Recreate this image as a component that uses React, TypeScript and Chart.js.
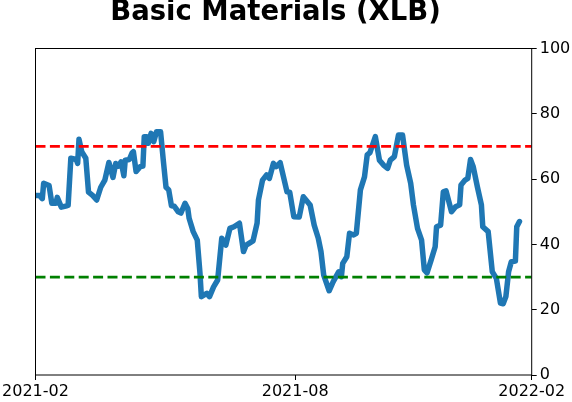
import { useEffect, useRef } from 'react';
import { Chart, registerables } from 'chart.js';

Chart.register(...registerables);

// days since 2021-02-01 (axis runs to 2022-02)
const days = [
	0, 3, 5, 6, 10, 12, 15, 16, 19, 23, 24, 26, 30, 31, 32, 34, 37, 39, 42, 45,
	48, 51, 54, 57, 59, 61, 63, 65, 66, 69, 71, 72, 74, 77, 79, 80, 82, 83, 85, 87,
	89, 92, 94, 96, 98, 100, 102, 105, 107, 110, 112, 113, 116, 119, 121, 122, 126, 128, 131, 134,
	137, 140, 143, 146, 150, 153, 155, 160, 163, 164, 167, 170, 172, 175, 177, 180, 185, 187, 190, 194,
	197, 202, 205, 208, 210, 212, 216, 219, 223, 225, 226, 229, 231, 234, 236, 239, 242, 244, 246, 250,
	253, 256, 259, 261, 264, 267, 270, 273, 276, 278, 281, 284, 286, 288, 291, 294, 295, 298, 300, 302,
	306, 309, 312, 313, 316, 318, 320, 322, 325, 328, 329, 333, 336, 339, 342, 344, 346, 348, 350, 353,
	354, 356,
];
const values = [
	55, 55, 54, 58.7, 58, 52.6, 52.6, 54.4, 51.4, 51.8, 52, 66.4, 66, 64.8, 72.2, 68.4, 66.4, 56, 55, 53.6,
	57.5, 59.7, 65.1, 60.5, 64.8, 64, 65.3, 61, 65.8, 66, 68, 68.4, 62.3, 63.8, 64, 73, 73, 71, 74, 71.5,
	74.5, 74.5, 65.8, 57.5, 56.7, 51.8, 51.7, 50, 49.6, 52.6, 51, 48, 43.9, 41.3, 31.1, 24, 25, 24, 27, 29.1,
	41.9, 39.8, 44.9, 45.4, 46.5, 37.8, 39.8, 41.1, 46.5, 53.6, 59.7, 61.3, 60.2, 64.8, 63.8, 65, 56.1, 56, 48.5, 48.4,
	54.6, 52.1, 45.9, 41.9, 37.8, 30.6, 25.8, 28.6, 31.6, 30.1, 34.2, 36.2, 43.4, 42.9, 43.4, 56.7, 60.7, 67.4, 68.1, 73,
	65.8, 64.3, 63.3, 65.8, 66.9, 73.5, 73.5, 64.3, 58.7, 52.1, 44.9, 41.3, 32.2, 31.3, 35.2, 39.3, 45.4, 45.9, 56.1, 56.4,
	50, 51.5, 52.1, 58.2, 59.7, 60.2, 66, 63.8, 57.7, 52.1, 45.4, 43.9, 31.6, 29.6, 22, 21.8, 24, 31.6, 34.7, 34.9,
	45.4, 47,
];

const tickDays = [0, 191, 365];
const tickLabels = ['2021-02', '2021-08', '2022-02'];
const yTicks = [0, 20, 40, 60, 80, 100];
const upperLevel = 70;
const lowerLevel = 30;
const xStart = 0;
const xEnd = 365;

const FONT = "'DejaVu Sans', sans-serif";

// matplotlib-style box round the plot area
const boxPlugin = {
	id: 'box',
	afterDraw(chart: any) {
		const { ctx, chartArea } = chart;
		ctx.save();
		ctx.strokeStyle = '#000';
		ctx.lineWidth = 1;
		ctx.strokeRect(chartArea.left, chartArea.top, chartArea.right - chartArea.left, chartArea.bottom - chartArea.top);
		ctx.restore();
	},
};

const App = () => {
	const chartRef = useRef<HTMLCanvasElement>(null);
	const chartInstanceRef = useRef<Chart | null>(null);

	useEffect(() => {
		document.body.style.margin = '0';
		if (!chartRef.current) return;
		if (chartInstanceRef.current) chartInstanceRef.current.destroy();

		const hline = (level: number, color: string) => ({
			data: [
				{ x: xStart, y: level },
				{ x: xEnd, y: level },
			],
			borderColor: color,
			borderWidth: 2.8,
			borderDash: [10, 4.4],
			pointRadius: 0,
		});

		chartInstanceRef.current = new Chart(chartRef.current, {
			type: 'line',
			data: {
				datasets: [
					hline(upperLevel, '#ff0000'),
					hline(lowerLevel, '#008000'),
					{
						data: days.map((d, i) => ({ x: d, y: values[i] })),
						borderColor: '#1f77b4',
						borderWidth: 5.5,
						borderJoinStyle: 'round',
						borderCapStyle: 'round',
						pointRadius: 0,
						tension: 0,
					},
				],
			},
			options: {
				animation: false,
				responsive: false,
				// negative left padding moves the title's centre left of the canvas centre
				layout: { padding: { left: -21, right: 0, top: 0, bottom: 0 } },
				plugins: {
					legend: { display: false },
					tooltip: { enabled: false },
					title: {
						display: true,
						text: 'Basic Materials (XLB)',
						color: '#000',
						font: { family: FONT, size: 27.5, weight: 'bold', lineHeight: 0.9 },
						padding: { top: 0, bottom: 23.75 },
					},
				},
				scales: {
					x: {
						type: 'linear',
						min: xStart,
						max: xEnd,
						border: { display: false },
						grid: { drawOnChartArea: false, drawTicks: true, tickLength: 5, color: '#000' },
						afterBuildTicks: (scale: any) => {
							scale.ticks = tickDays.map((v) => ({ value: v }));
						},
						afterFit: (scale: any) => {
							scale.height = 27;
						},
						ticks: {
							autoSkip: false,
							maxRotation: 0,
							padding: 2,
							color: '#000',
							font: { family: FONT, size: 16 },
							callback: (v: any) => tickLabels[tickDays.indexOf(Number(v))] ?? '',
						},
					},
					// empty left axis, only reserves the left margin
					yLeft: {
						axis: 'y',
						position: 'left',
						min: 0,
						max: 100,
						border: { display: false },
						grid: { display: false },
						ticks: { display: false },
						afterFit: (scale: any) => {
							scale.width = 56.5;
						},
					},
					y: {
						position: 'right',
						min: 0,
						max: 100,
						border: { display: false },
						grid: { drawOnChartArea: false, drawTicks: true, tickLength: 5, color: '#000' },
						afterBuildTicks: (scale: any) => {
							scale.ticks = yTicks.map((v) => ({ value: v }));
						},
						afterFit: (scale: any) => {
							scale.width = 40.3;
						},
						ticks: {
							padding: 3,
							color: '#000',
							font: { family: FONT, size: 16 },
						},
					},
				},
			},
			plugins: [boxPlugin],
		} as any);

		return () => {
			if (chartInstanceRef.current) {
				chartInstanceRef.current.destroy();
				chartInstanceRef.current = null;
			}
		};
	}, []);

	return <canvas ref={chartRef} width={572} height={402} style={{ display: 'block' }} />;
};

export default App;
